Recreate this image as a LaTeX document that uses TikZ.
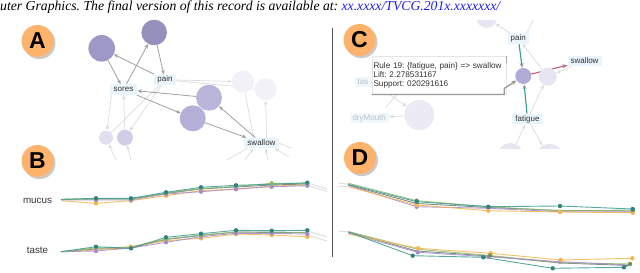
\documentclass[tikz,border=0pt]{standalone}
\usepackage{fontspec}
\setmainfont{Liberation Serif}
\newfontfamily\arial{Liberation Sans}
\usetikzlibrary{arrows.meta}
\frenchspacing
\definecolor{badgeor}{HTML}{FDB36B}
\definecolor{boxfill}{HTML}{EAF4FB}
\definecolor{boxfaint}{HTML}{F1F7FB}
\definecolor{edgegray}{HTML}{9C9C9C}
\definecolor{faintgray}{HTML}{DCDCDC}
\definecolor{ptext}{HTML}{333333}
\definecolor{ftext}{HTML}{B8C4CC}
\definecolor{linkblue}{HTML}{2020E8}
\definecolor{pA1}{HTML}{9D98C6}
\definecolor{pA3}{HTML}{B9B6DA}
\definecolor{pA4}{HTML}{B4B0D7}
\definecolor{pF}{HTML}{F2F1F8}
\definecolor{pF2}{HTML}{E7E5F2}
\definecolor{pF3}{HTML}{ECEAF5}
\definecolor{pS1}{HTML}{E2E0EF}
\definecolor{pS2}{HTML}{D2CDE6}
\definecolor{pC}{HTML}{B0ACD6}
\definecolor{cteal}{HTML}{3A9A91}
\definecolor{colive}{HTML}{8DB86B}
\definecolor{cpurple}{HTML}{A58DC9}
\definecolor{corange}{HTML}{F6B54A}
\definecolor{cdark}{HTML}{6E7C78}
\definecolor{cpink}{HTML}{C95C80}
\definecolor{divgray}{HTML}{555555}
\pgfdeclarelayer{bg}
\pgfdeclarelayer{edges}
\pgfsetlayers{bg,edges,main}
\tikzset{
  badge/.style={circle, fill=badgeor, minimum size=32pt, inner sep=0pt,
    font=\arial\bfseries\fontsize{23}{23}\selectfont, text=black},
  badgeshadow/.style={circle, fill=black!45, opacity=.45, minimum size=32pt, inner sep=0pt},
  gcirc/.style={circle, inner sep=0pt, draw=none},
  lbl/.style={fill=boxfill, font=\arial\fontsize{8}{9}\selectfont, text=ptext,
    inner xsep=3pt, inner ysep=1.5pt, text height=5.8pt, text depth=1.6pt},
  flbl/.style={lbl, fill=boxfaint, text=ftext},
  tipA/.style={-{Stealth[length=4.5pt,width=3.6pt]}},
  ed/.style={draw=edgegray, line width=0.75pt, tipA},
  fe/.style={draw=faintgray, line width=0.7pt, tipA},
  fl/.style={draw=faintgray, line width=0.7pt},
  tealedge/.style={draw=cteal, line width=1.1pt, -{Stealth[length=5pt,width=4pt,color=edgegray]}},
  pinkedge/.style={draw=cpink, line width=1.1pt, -{Stealth[length=5pt,width=4pt,color=cpink!70!gray]}},
  tooltip/.style={fill=white, draw=black!10, line width=0.4pt, inner xsep=1.6pt,
    font=\arial\fontsize{8.2}{9.2}\selectfont, text=ptext, align=left},
  tipline/.style={draw=black!40, line width=1.3pt},
  chartlbl/.style={font=\arial\fontsize{9.8}{10}\selectfont, text=ptext, inner sep=0pt},
  ser/.style={line width=0.9pt, opacity=.85},
  ext/.style={draw=black!12, line width=1pt},
}
\begin{document}
\begin{tikzpicture}[x=1pt,y=-1pt]
\useasboundingbox (0,0) rectangle (640,273);
\begin{pgfonlayer}{bg}
\fill[white] (0,0) rectangle (640,273);
\end{pgfonlayer}

% header
\node[anchor=base west, inner sep=0pt, font=\fontsize{13.7}{14}\selectfont\itshape] (hdr) at (0,10)
  {uter Graphics. The final version of this record is available at: \textcolor{linkblue}{xx.xxxx/TVCG.201x.xxxxxxx/}};

% divider
\draw[divgray, line width=0.8pt] (332,28) -- (332,257);

% badges
\node[badgeshadow] (shA) at (39.5,43.2) {};
\node[badge] (bA) at (37.5,41) {A};
\node[badgeshadow] (shB) at (39.5,163.2) {};
\node[badge] (bB) at (37.5,161) {B};
\node[badgeshadow] (shC) at (361.5,42.2) {};
\node[badge] (bC) at (359.5,40) {C};
\node[badgeshadow] (shD) at (362,160.2) {};
\node[badge] (bD) at (360,158) {D};

% ---------- panel A graph ----------
\node[gcirc, minimum size=26.6pt, fill=pA1] (c1) at (101.7,48.3) {};
\node[gcirc, minimum size=25.6pt, fill=pA1!95!black] (c2) at (154.2,32.5) {};
\node[lbl] (pain) at (165,79.7) {pain};
\node[lbl, inner xsep=4pt] (sores) at (123.5,89.5) {sores};
\node[gcirc, minimum size=26pt, fill=pA3] (c3) at (209,97.7) {};
\node[gcirc, minimum size=26pt, fill=pA4] (c4) at (192.7,118.3) {};
\node[gcirc, minimum size=22pt, fill=pF] (f1) at (243,81.7) {};
\node[gcirc, minimum size=22pt, fill=pF] (f2) at (265.7,89.3) {};
\node[gcirc, minimum size=14pt, fill=pS1] (s1) at (106,137.7) {};
\node[gcirc, minimum size=16pt, fill=pS2] (s2) at (125,137.7) {};
\node[lbl] (swA) at (261.5,143) {swallow};
\coordinate (a1) at (116,160);
\coordinate (a2) at (131,160);
\coordinate (a3) at (226.7,160);
\coordinate (a4) at (245,160);
\coordinate (a5) at (268,160);
\coordinate (a6) at (289,157);
\coordinate (a7) at (291,148);

\begin{pgfonlayer}{edges}
\draw[fl] (pain) -- (f2);
\draw[fe] (pain) -- (f1);
\draw[fe] (f1) -- ([xshift=-8pt]swA.north);
\draw[fe] ([xshift=5pt]swA.north) -- (f2.south);
\draw[fe] ([xshift=2pt]sores.south west) -- (s1);
\draw[fe] (s2) -- (sores);
\draw[fl] (pain) -- (s1);
\draw[fe] (pain) -- (s2);
\draw[fe] (a1) -- (s1);
\draw[fe] (a2) -- (s2);
\draw[fl] (a3) -- ([xshift=-14pt]swA.south);
\draw[fe] (a4) -- ([xshift=-8pt]swA.south);
\draw[fe] (a5) -- ([xshift=4pt]swA.south);
\draw[fe] (a6) -- ([xshift=-4pt]swA.south east);
\draw[fl] (swA.east) -- (a7);
\draw[ed] (c1) -- (sores);
\draw[ed] (pain) -- (c1);
\draw[ed] (c2) -- (pain);
\draw[ed] (sores) -- (c2);
\draw[ed] (c3) -- (sores);
\draw[ed] (sores) -- (c4);
\draw[ed] (c4) -- (swA);
\draw[ed] (swA) -- (c3);
\end{pgfonlayer}

% ---------- panel C graph ----------
\begin{scope}
\clip (470,20) rectangle (505,40);
\node[gcirc, minimum size=20pt, fill=pF2] (tc) at (486.7,18) {};
\end{scope}
\node[lbl] (painC) at (518.3,38.3) {pain};
\node[gcirc, minimum size=16pt, fill=pC] (pc) at (523.3,76) {};
\node[gcirc, minimum size=18pt, fill=pF2] (fr) at (547.7,76.7) {};
\node[lbl] (swC) at (584.5,61) {swallow};
\node[lbl] (fat) at (527.5,119) {fatigue};
\begin{scope}
\clip (490,130) rectangle (570,148);
\node[gcirc, minimum size=26pt, fill=pF2] (b1) at (510.5,156) {};
\node[gcirc, minimum size=28pt, fill=pF2] (b2) at (549.5,158) {};
\end{scope}
\node[flbl, anchor=west, inner xsep=2.5pt] (taste) at (355,82.2) {tas};
\node[gcirc, minimum size=30pt, fill=pF3] (bfc) at (419.3,115) {};
\node[flbl] (dry) at (369.2,118) {dryMouth};
\coordinate (ct1) at (533.3,20);
\coordinate (cx1) at (385.5,107.5);
\coordinate (cx2) at (399,92);

\begin{pgfonlayer}{edges}
\draw[fe] (painC) -- (tc);
\draw[fl] ([xshift=-2pt]painC.north east) -- (ct1);
\draw[fe] (fr) -- (painC);
\draw[fe] (swC) -- (fr);
\draw[fe] (fat) -- (fr);
\draw[fe] (b1) -- (fat);
\draw[fe] (fat) -- (b2);
\draw[fe] (bfc) -- (dry);
\draw[fe] (taste.east) -- (bfc);
\draw[fl] (cx2) -- (cx1);
\draw[tealedge] (painC) -- (pc);
\draw[tealedge] (fat) -- (pc);
\draw[pinkedge] (pc) -- (swC);
\end{pgfonlayer}

% tooltip
\node[tooltip, anchor=north west, minimum width=133.3pt, minimum height=38pt, text width=131pt] (tip) at (371.7,56)
  {Rule 19: \{fatigue, pain\} => swallow\\Lift: 2.278531167\\Support: 020291616};
\draw[black!35, line width=0.6pt] (tip.north east) -- ++(0,7);
\draw[tipline, -{Stealth[length=5pt,width=4.5pt]}] (tip.south west) -- ([xshift=-2pt]tip.south east) -- ++(0,-6) -- (pc);

% ---------- panel B charts ----------
\node[chartlbl] (mucus) at (37.5,200.7) {mucus};
\node[chartlbl] (tasteB) at (37.5,250) {taste};

\draw[ext] (307.3,183) -- (327,189);
\draw[ext] (307.3,185.5) -- (327,191.5);
\draw[ser, cdark] plot coordinates {(61,199.5) (96,199) (131,199) (166,193.5) (201,189) (236,187) (271.7,185) (307.3,184)};
\draw[ser, corange] plot coordinates {(61,200.7) (96,203.3) (131,200.7) (166,195.7) (201,190.7) (236,189.3) (271.7,186) (307.3,185)};
\draw[ser, cpurple] plot coordinates {(61,200) (96,200) (131,200) (166,194) (201,191.7) (236,189) (271.7,186.7) (307.3,185.7)};
\draw[ser, colive] plot coordinates {(61,199.5) (96,199) (131,199) (166,193) (201,188.5) (236,186.5) (271.7,183.3) (307.3,183.5)};
\draw[ser, cteal] plot coordinates {(61,199.3) (96,198.3) (131,198.3) (166,192.3) (201,187.3) (236,185.3) (271.7,184.3) (307.3,182.7)};
\foreach \p in {(96,203.3),(131,200.7),(166,195.7),(201,190.7),(236,189.3),(271.7,186),(307.3,185)} \fill[corange] \p circle (2.2);
\foreach \p in {(96,200),(131,200),(166,194),(201,191.7),(236,189),(271.7,186.7),(307.3,185.7)} \fill[cpurple] \p circle (2.2);
\foreach \p in {(271.7,183.3),(166,193)} \fill[colive] \p circle (2.2);
\foreach \p in {(96,198.3),(131,198.3),(166,192.3),(201,187.3),(236,185.3),(307.3,182.7)} \fill[cteal!85!black] \p circle (2.2);

\draw[ext] (307.3,231) -- (327,237);
\draw[ext] (307.3,235) -- (327,241);
\draw[ser, cdark] plot coordinates {(61,251.7) (96,249) (131,248) (166,239.5) (201,235.5) (236,232) (271.7,232.5) (307.3,232.5)};
\draw[ser, corange] plot coordinates {(61,251.7) (96,250) (131,246.7) (166,240.7) (201,238.3) (236,234) (271.7,235) (307.3,236.7)};
\draw[ser, cpurple] plot coordinates {(61,251.7) (96,251) (131,248) (166,242.3) (201,236.7) (236,233.3) (271.7,233.3) (307.3,234)};
\draw[ser, colive] plot coordinates {(61,251.7) (96,248) (131,247) (166,239) (201,235) (236,232) (271.7,232) (307.3,232.5)};
\draw[ser, cteal] plot coordinates {(61,251.7) (96,246.7) (131,248.3) (166,237.3) (201,233.7) (236,230.3) (271.7,230.7) (307.3,230.3)};
\foreach \p in {(96,250),(131,246.7),(166,240.7),(201,238.3),(236,234),(271.7,235),(307.3,236.7)} \fill[corange] \p circle (2.2);
\foreach \p in {(96,251),(166,242.3),(201,236.7),(236,233.3),(271.7,233.3),(307.3,234)} \fill[cpurple] \p circle (2.2);
\foreach \p in {(166,239),(201,235)} \fill[colive] \p circle (2.2);
\foreach \p in {(96,246.7),(131,248.3),(166,237.3),(201,233.7),(236,230.3),(271.7,230.7),(307.3,230.3)} \fill[cteal!85!black] \p circle (2.2);

% ---------- panel D charts ----------
\draw[ext] (338,183) -- (348.3,184.3);
\draw[ext] (338,186) -- (348.3,186.7);
\draw[ser, cdark] plot coordinates {(348.3,185) (416.7,203.5) (488.3,207.5) (560,210.5) (632.7,211)};
\draw[ser, colive] plot coordinates {(348.3,183.3) (416.7,200.7) (488.3,206.7) (560,210.7) (632.7,210)};
\draw[ser, cpurple] plot coordinates {(348.3,185.5) (416.7,206.7) (488.3,208.3) (560,211.7) (632.7,211.7)};
\draw[ser, corange] plot coordinates {(348.3,186.7) (416.7,205) (488.3,210.7) (560,212) (632.7,212.7)};
\draw[ser, cteal] plot coordinates {(348.3,184.3) (416.7,201.7) (488.3,206.7) (560,206) (632.7,209)};
\foreach \p in {(416.7,206.7),(488.3,208.3),(560,211.7),(632.7,211.7)} \fill[cpurple] \p circle (2.2);
\foreach \p in {(416.7,205),(488.3,210.7),(560,212),(632.7,212.7)} \fill[corange] \p circle (2.2);
\foreach \p in {(416.7,200.7),(632.7,210)} \fill[colive!80!black] \p circle (2.2);
\foreach \p in {(416.7,201.7),(488.3,206.7),(560,206),(632.7,209)} \fill[cteal!85!black] \p circle (2.2);

\draw[ext] (338,231) -- (348.3,232);
\draw[ser, cdark] plot coordinates {(348.3,232) (417,251) (489,256) (560,263) (630,265.5)};
\draw[ser, colive] plot coordinates {(348.3,231.5) (418,249.3) (490,255.5) (560,262.7) (630,264)};
\draw[ser, cpurple] plot coordinates {(348.3,233) (417.7,252.3) (488.3,256.7) (560,261.7) (630,265)};
\draw[ser, corange] plot coordinates {(348.3,234) (418.3,248.3) (490.7,253.3) (560.7,260) (632.3,258.3)};
\draw[ser, cteal] plot coordinates {(348.3,232) (412.7,255.7) (483.3,257.3) (552.7,268.3) (624,267.3) (630,265)};
\foreach \p in {(417.7,252.3),(488.3,256.7),(560,261.7)} \fill[cpurple] \p circle (2.2);
\foreach \p in {(418.3,248.3),(490.7,253.3),(560.7,260),(632.3,258.3)} \fill[corange] \p circle (2.2);
\foreach \p in {(490,255.5),(630,264)} \fill[colive!80!black] \p circle (2.2);
\foreach \p in {(412.7,255.7),(483.3,257.3),(552.7,268.3),(624,267.3)} \fill[cteal!85!black] \p circle (2.2);
\end{tikzpicture}
\end{document}
